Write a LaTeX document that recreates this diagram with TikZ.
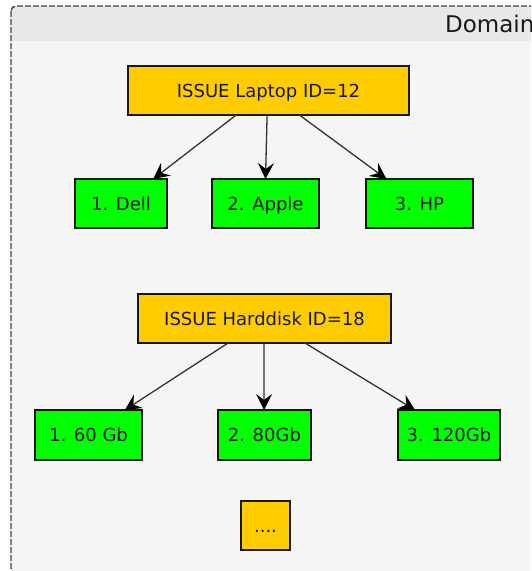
\documentclass[tikz,border=0pt]{standalone}
\usepackage{fontspec}
\setmainfont{DejaVu Sans}
\usetikzlibrary{calc,arrows.meta}
\definecolor{gold}{HTML}{FFCC00}
\definecolor{lime}{HTML}{00FF00}
\tikzset{
  px/.style={x=1pt,y=-1pt},
  boxnode/.style={draw=black!90,line width=1.6pt,anchor=north west,inner sep=0pt,outer sep=0pt,text height=13pt,text depth=0pt,font=\fontsize{18}{20}\selectfont,text=black!90},
  issue/.style={boxnode,fill=gold},
  option/.style={boxnode,fill=lime},
  link/.style={draw=black!80,line width=1.3pt,-{Stealth[length=16pt,width=16pt,inset=6pt,color=black]}}
}
\newcommand{\boxat}[7]{\node[#1,minimum width=#4pt-#2pt,minimum height=#5pt-#3pt] (#6) at (#2,#3) {#7};}
\begin{document}
\begin{tikzpicture}[px]
\useasboundingbox (0,0) rectangle (531,571);
\clip (0,0) rectangle (531,571);
\fill[white] (0,0) rectangle (531,571);
\fill[rounded corners=5pt,fill=black!4] (11,6) rectangle (560,573);
\begin{scope}
\clip[rounded corners=5pt] (11,6) rectangle (560,573);
\fill[black!9] (11,6) rectangle (560,41);
\end{scope}
\draw[black!75,line width=1.4pt,dash pattern=on 6pt off 2pt,rounded corners=5pt] (11,6) rectangle (560,573);
\node[anchor=west,inner sep=0pt,text=black!90,font=\fontsize{23}{26}\selectfont] (title) at (445,24) {Domain};
\boxat{issue}{128}{66}{409}{115}{lap}{ISSUE Laptop ID=12}
\boxat{option}{75}{179}{167}{228}{dell}{1. Dell}
\boxat{option}{212}{179}{319}{228}{apple}{2. Apple}
\boxat{option}{366}{179}{473}{228}{hp}{3. HP}
\boxat{issue}{138}{294}{391}{343}{hdd}{ISSUE Harddisk ID=18}
\boxat{option}{35}{410}{142}{460}{gb60}{1. 60 Gb}
\boxat{option}{218}{410}{311}{460}{gb80}{2. 80Gb}
\boxat{option}{398}{410}{500}{460}{gb120}{3. 120Gb}
\boxat{issue}{241}{501}{290}{550}{more}{....}
\draw[link] ($(lap.south west)!.385!(lap.south east)$) -- ($(dell.north west)!.85!(dell.north east)$);
\draw[link] ($(lap.south west)!.495!(lap.south east)$) -- ($(apple.north west)!.5!(apple.north east)$);
\draw[link] ($(lap.south west)!.61!(lap.south east)$) -- ($(hp.north west)!.19!(hp.north east)$);
\draw[link] ($(hdd.south west)!.356!(hdd.south east)$) -- ($(gb60.north west)!.84!(gb60.north east)$);
\draw[link] ($(hdd.south west)!.498!(hdd.south east)$) -- ($(gb80.north west)!.495!(gb80.north east)$);
\draw[link] ($(hdd.south west)!.66!(hdd.south east)$) -- ($(gb120.north west)!.167!(gb120.north east)$);
\end{tikzpicture}
\end{document}
